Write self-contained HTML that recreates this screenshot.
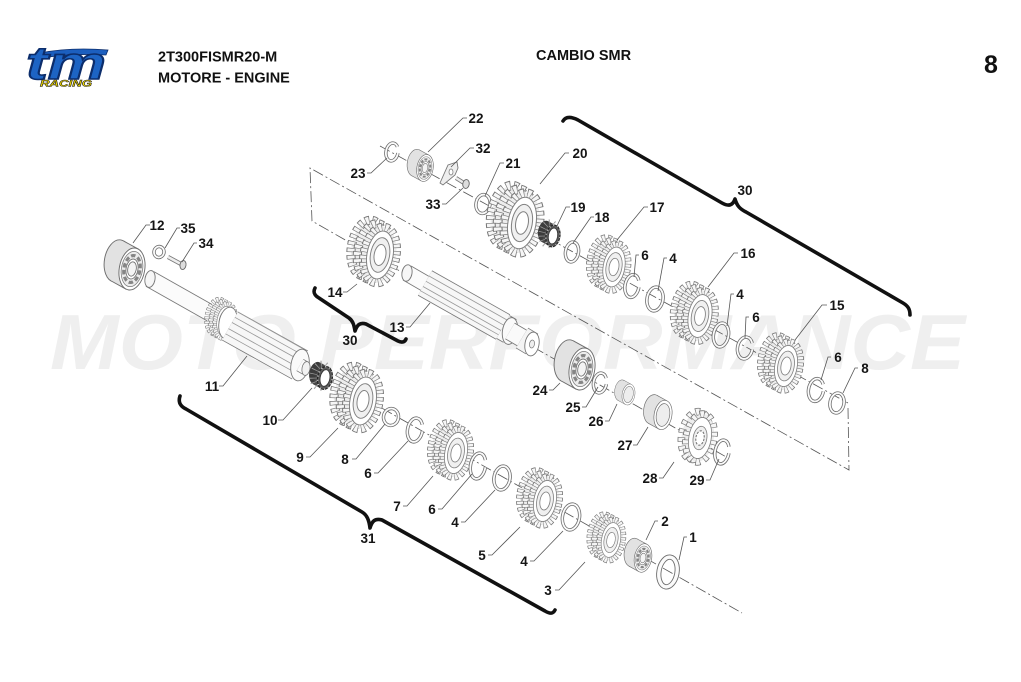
<!DOCTYPE html>
<html><head><meta charset="utf-8"><style>
html,body{margin:0;padding:0;background:#fff;width:1021px;height:682px;overflow:hidden}
svg{display:block}
.l{font-family:"Liberation Sans",Arial,sans-serif;font-weight:bold;font-size:13.5px;fill:#151515;text-anchor:middle}
.h{font-family:"Liberation Sans",Arial,sans-serif;font-weight:bold;fill:#111}
.ax{fill:none;stroke:#555;stroke-width:0.8;stroke-dasharray:11 3 2 3}
.wa{fill:none;stroke:#6d6d6d;stroke-width:3.4}
.wb{fill:none;stroke:#fbfbfb;stroke-width:1.8}
.br{fill:none;stroke:#111;stroke-width:3.6;stroke-linecap:round;stroke-linejoin:round}
</style></head><body>
<svg width="1021" height="682" viewBox="0 0 1021 682" xmlns="http://www.w3.org/2000/svg">
<defs>
 <g id="tr">
  <ellipse rx="15" ry="26.5" fill="#ededed" stroke="#767676" stroke-width="8.6" stroke-dasharray="3.9 2.745"/>
  <ellipse rx="15" ry="26.5" fill="none" stroke="#f6f6f6" stroke-width="6.8" stroke-dasharray="2.7 3.945" stroke-dashoffset="-0.6"/>
 </g>
 <g id="gear">
  <use href="#tr" transform="translate(-12,-6.6) rotate(10)"/>
  <use href="#tr" transform="translate(-6,-3.3) rotate(10)"/>
  <g transform="rotate(10)">
   <use href="#tr"/>
   <ellipse rx="12.3" ry="22.8" fill="#fff" stroke="#808080" stroke-width="0.9"/>
   <ellipse rx="9" ry="16.5" fill="#f0f0f0" stroke="#808080" stroke-width="0.9"/>
   <ellipse rx="5.5" ry="10" fill="#fff" stroke="#808080" stroke-width="0.9"/>
  </g>
 </g>
 <g id="trs">
  <ellipse rx="15" ry="26.5" fill="#ededed" stroke="#767676" stroke-width="8.4" stroke-dasharray="5 4.49"/>
  <ellipse rx="15" ry="26.5" fill="none" stroke="#f6f6f6" stroke-width="6.6" stroke-dasharray="3.6 5.89" stroke-dashoffset="-0.7"/>
 </g>
 <g id="spr">
  <use href="#trs" transform="translate(-5,-2.7) rotate(10)"/>
  <g transform="rotate(10)">
   <use href="#trs"/>
   <ellipse rx="12.3" ry="22.8" fill="#fff" stroke="#808080" stroke-width="0.9"/>
   <ellipse rx="7.5" ry="13" fill="#efefef" stroke="#808080" stroke-width="0.9"/>
   <ellipse rx="4.5" ry="8" fill="#fff" stroke="#777" stroke-width="1.2" stroke-dasharray="2.5 1.5"/>
  </g>
 </g>
 <g id="brg">
  <ellipse transform="translate(-14,-7.7) rotate(10)" rx="12" ry="20" fill="#e2e2e2" stroke="#6e6e6e" stroke-width="0.9"/>
  <polygon points="5.75,-18.9 -8.25,-26.6 -19.75,11.2 -5.75,18.9" fill="#e2e2e2"/>
  <line x1="5.75" y1="-18.9" x2="-8.25" y2="-26.6" stroke="#6e6e6e" stroke-width="0.9"/>
  <line x1="-5.75" y1="18.9" x2="-19.75" y2="11.2" stroke="#6e6e6e" stroke-width="0.9"/>
  <g transform="rotate(10)">
   <ellipse rx="12" ry="20" fill="#fff" stroke="#6e6e6e" stroke-width="0.9"/>
   <ellipse rx="10" ry="16.8" fill="#ececec" stroke="#7a7a7a" stroke-width="0.7"/>
   <ellipse rx="7.6" ry="12.8" fill="none" stroke="#858585" stroke-width="3" stroke-dasharray="4.2 2.3"/>
   <ellipse rx="5.6" ry="9.5" fill="#fff" stroke="#6e6e6e" stroke-width="0.8"/>
   <ellipse rx="4" ry="6.8" fill="#f4f4f4" stroke="#6e6e6e" stroke-width="0.8"/>
  </g>
 </g>
 <g id="bush">
  <ellipse transform="translate(-14,-7.7) rotate(10)" rx="12" ry="20" fill="#e2e2e2" stroke="#6e6e6e" stroke-width="0.9"/>
  <polygon points="5.75,-18.9 -8.25,-26.6 -19.75,11.2 -5.75,18.9" fill="#e2e2e2"/>
  <line x1="5.75" y1="-18.9" x2="-8.25" y2="-26.6" stroke="#6e6e6e" stroke-width="0.9"/>
  <line x1="-5.75" y1="18.9" x2="-19.75" y2="11.2" stroke="#6e6e6e" stroke-width="0.9"/>
  <g transform="rotate(10)">
   <ellipse rx="12" ry="20" fill="#fff" stroke="#6e6e6e" stroke-width="0.9"/>
   <ellipse rx="9" ry="15.5" fill="#eeeeee" stroke="#6e6e6e" stroke-width="0.9"/>
  </g>
 </g>
 <g id="ndl">
  <ellipse transform="translate(-8,-4.4) rotate(10)" rx="7" ry="11" fill="#3c3c3c"/>
  <polygon points="3.33,-10.33 -4.67,-14.73 -11.33,5.93 -3.33,10.33" fill="#484848"/>
  <ellipse transform="translate(-4,-2.2) rotate(10)" rx="7" ry="11" fill="none" stroke="#a0a0a0" stroke-width="7" stroke-dasharray="0.7 3.39"/>
  <g transform="rotate(10)">
   <ellipse rx="7" ry="11" fill="#5a5a5a" stroke="#222" stroke-width="1"/>
   <ellipse rx="7" ry="11" fill="none" stroke="#cfcfcf" stroke-width="1.6" stroke-dasharray="1 3.09"/>
   <ellipse rx="4.6" ry="8" fill="#fff" stroke="#333" stroke-width="0.8"/>
  </g>
 </g>
</defs>

<text x="50" y="369" font-family="Liberation Sans, Arial, sans-serif" font-weight="bold" font-style="italic" font-size="78" fill="#efefef" textLength="915" lengthAdjust="spacingAndGlyphs">MOTO PERFORMANCE</text>

<path d="M40,53 Q70,47 108,50 L106,55 Q72,53 42,58 Z" fill="#1c5fbf" stroke="#0c2d6b" stroke-width="0.8"/>
<text x="26" y="79" font-family="Liberation Sans, Arial, sans-serif" font-size="46" font-weight="bold" font-style="italic" fill="#1d64c4" stroke="#0c2d6b" stroke-width="1.6" textLength="80" lengthAdjust="spacingAndGlyphs">tm</text>
<text x="40" y="86.5" font-family="Liberation Sans, Arial, sans-serif" font-size="9.5" font-weight="bold" font-style="italic" fill="#efd800" stroke="#1a1a1a" stroke-width="0.5" textLength="52" lengthAdjust="spacingAndGlyphs">RACING</text>
<text class="h" x="158" y="61.5" font-size="14.5">2T300FISMR20-M</text>
<text class="h" x="158" y="82.5" font-size="14.5">MOTORE - ENGINE</text>
<text class="h" x="536" y="60" font-size="14.5">CAMBIO SMR</text>
<text class="h" x="984" y="73" font-size="25">8</text>

<path class="ax" d="M380,146 L848,403"/>
<path class="ax" d="M848,408 L849,470 L310,168 L312,221 L728,458"/>
<path class="ax" d="M118,258 L742,613"/>

<line x1="150" y1="279" x2="212" y2="314" stroke="#777" stroke-width="17.5"/>
<line x1="150" y1="279" x2="212" y2="314" stroke="#fbfbfb" stroke-width="15.8"/>
<ellipse transform="translate(150,279) rotate(10)" rx="5" ry="8.5" fill="#f6f6f6" stroke="#777" stroke-width="0.9"/>
<use href="#gear" transform="translate(225,321) scale(0.65)"/>
<ellipse transform="translate(228,323) rotate(10)" rx="9" ry="16" fill="#fff" stroke="#777" stroke-width="0.9"/>
<line x1="230" y1="326" x2="300" y2="365" stroke="#777" stroke-width="33"/>
<line x1="230" y1="326" x2="300" y2="365" stroke="#f7f7f7" stroke-width="31.4"/>
<path d="M234.9,317.3L304.9,356.3M232,322.5L302,361.5M228.5,328.6L298.5,367.6M225.6,333.8L295.6,372.8M237.8,312L307,351" stroke="#999" stroke-width="0.8" fill="none"/>
<ellipse transform="translate(300,365) rotate(10)" rx="9" ry="16" fill="#fafafa" stroke="#777" stroke-width="0.9"/>
<line x1="300" y1="365" x2="306" y2="368.5" stroke="#777" stroke-width="14"/>
<line x1="300" y1="365" x2="306" y2="368.5" stroke="#fbfbfb" stroke-width="12.4"/>
<ellipse transform="translate(306,368.5) rotate(10)" rx="4" ry="7" fill="#f2f2f2" stroke="#777" stroke-width="0.8"/>

<line x1="407" y1="273" x2="426" y2="284" stroke="#777" stroke-width="17"/>
<line x1="407" y1="273" x2="426" y2="284" stroke="#fbfbfb" stroke-width="15.4"/>
<ellipse transform="translate(407,273) rotate(10)" rx="5" ry="8.3" fill="#f6f6f6" stroke="#777" stroke-width="0.9"/>
<line x1="425" y1="283" x2="503" y2="327" stroke="#777" stroke-width="29"/>
<line x1="425" y1="283" x2="503" y2="327" stroke="#f7f7f7" stroke-width="27.4"/>
<path d="M429,276L507,320M426,281.3L504,325.3M423,286.5L501,330.5M420.6,290.8L498.6,334.8" stroke="#999" stroke-width="0.8" fill="none"/>
<line x1="503" y1="327" x2="510" y2="331" stroke="#777" stroke-width="27"/>
<line x1="503" y1="327" x2="510" y2="331" stroke="#fafafa" stroke-width="25.4"/>
<ellipse transform="translate(510,331) rotate(10)" rx="7.5" ry="13.5" fill="#fafafa" stroke="#777" stroke-width="0.9"/>
<line x1="510" y1="331" x2="522" y2="338" stroke="#777" stroke-width="19"/>
<line x1="510" y1="331" x2="522" y2="338" stroke="#fafafa" stroke-width="17.4"/>
<line x1="522" y1="338" x2="532" y2="344" stroke="#777" stroke-width="24"/>
<line x1="522" y1="338" x2="532" y2="344" stroke="#f4f4f4" stroke-width="22.4"/>
<ellipse transform="translate(532,344) rotate(10)" rx="7" ry="12" fill="#fff" stroke="#777" stroke-width="0.9"/>
<ellipse transform="translate(532,344) rotate(10)" rx="2.5" ry="4" fill="#eee" stroke="#777" stroke-width="0.7"/>

<g transform="translate(392,152) rotate(10)"><ellipse class="wa" rx="6" ry="9" stroke-dasharray="41 7"/><ellipse class="wb" rx="6" ry="9" stroke-dasharray="41 7"/></g>
<use href="#brg" transform="translate(425,168) scale(0.68)"/>
<polygon points="440,183 448,165 457,162 458,168 455,175 443,185" fill="#eee" stroke="#777" stroke-width="0.9"/>
<ellipse cx="451" cy="172" rx="2" ry="3" fill="#fff" stroke="#777" stroke-width="0.7"/>
<line x1="456" y1="178" x2="464" y2="183" stroke="#777" stroke-width="4"/>
<line x1="456" y1="178" x2="464" y2="183" stroke="#eee" stroke-width="2.4"/>
<ellipse transform="translate(466,184) rotate(10)" rx="3.2" ry="4.5" fill="#ddd" stroke="#666" stroke-width="0.9"/>
<g transform="translate(483,204) rotate(10)"><ellipse class="wa" rx="7" ry="9.5"/><ellipse class="wb" rx="7" ry="9.5"/></g>
<use href="#gear" transform="translate(522,223) scale(1.14)"/>
<use href="#ndl" transform="translate(553,236)"/>
<g transform="translate(572,252) rotate(10)"><ellipse class="wa" rx="6.5" ry="10"/><ellipse class="wb" rx="6.5" ry="10"/></g>
<use href="#gear" transform="translate(614,267) scale(0.88)"/>
<g transform="translate(632,286) rotate(10)"><ellipse class="wa" rx="7" ry="11.5" stroke-dasharray="52 7"/><ellipse class="wb" rx="7" ry="11.5" stroke-dasharray="52 7"/></g>
<g transform="translate(655,299) rotate(10)"><ellipse class="wa" rx="8" ry="12"/><ellipse class="wb" rx="8" ry="12"/></g>
<use href="#gear" transform="translate(700,316) scale(0.95)"/>
<g transform="translate(721,335) rotate(10)"><ellipse class="wa" rx="7.5" ry="12"/><ellipse class="wb" rx="7.5" ry="12"/></g>
<g transform="translate(745,348) rotate(10)"><ellipse class="wa" rx="7.5" ry="11" stroke-dasharray="52 7"/><ellipse class="wb" rx="7.5" ry="11" stroke-dasharray="52 7"/></g>
<use href="#gear" transform="translate(786,366) scale(0.91)"/>
<g transform="translate(816,390) rotate(10)"><ellipse class="wa" rx="7.5" ry="11.5" stroke-dasharray="53 7"/><ellipse class="wb" rx="7.5" ry="11.5" stroke-dasharray="53 7"/></g>
<g transform="translate(837,403) rotate(10)"><ellipse class="wa" rx="7" ry="10"/><ellipse class="wb" rx="7" ry="10"/></g>

<use href="#gear" transform="translate(380,255) scale(1.06)"/>
<use href="#brg" transform="translate(582,369) scale(1.06)"/>
<g transform="translate(600,383) rotate(10)"><ellipse class="wa" rx="6.5" ry="10" stroke-dasharray="46 6.5"/><ellipse class="wb" rx="6.5" ry="10" stroke-dasharray="46 6.5"/></g>
<use href="#bush" transform="translate(628.5,394.5) scale(0.53)"/>
<use href="#bush" transform="translate(663,415) scale(0.74)"/>
<use href="#spr" transform="translate(700,438) scale(0.91)"/>
<g transform="translate(722,452) rotate(10)"><ellipse class="wa" rx="7" ry="12" stroke-dasharray="54 7"/><ellipse class="wb" rx="7" ry="12" stroke-dasharray="54 7"/></g>

<use href="#brg" transform="translate(132,269) scale(1.06)"/>
<g transform="translate(159,252) rotate(10)"><ellipse class="wa" rx="5" ry="5.5"/><ellipse class="wb" rx="5" ry="5.5"/></g>
<line x1="168" y1="257" x2="181" y2="264" stroke="#777" stroke-width="4.2"/>
<line x1="168" y1="257" x2="181" y2="264" stroke="#eee" stroke-width="2.6"/>
<ellipse transform="translate(183,265) rotate(10)" rx="3" ry="4.5" fill="#ddd" stroke="#666" stroke-width="0.9"/>
<use href="#ndl" transform="translate(325,378) scale(1.05)"/>
<use href="#gear" transform="translate(363,401) scale(1.06)"/>
<g transform="translate(391,417) rotate(10)"><ellipse class="wa" rx="7.5" ry="8.5"/><ellipse class="wb" rx="7.5" ry="8.5"/></g>
<g transform="translate(415,430) rotate(10)"><ellipse class="wa" rx="7.5" ry="12" stroke-dasharray="55 7"/><ellipse class="wb" rx="7.5" ry="12" stroke-dasharray="55 7"/></g>
<use href="#gear" transform="translate(456,453) scale(0.91)"/>
<g transform="translate(478,466) rotate(10)"><ellipse class="wa" rx="7.5" ry="13" stroke-dasharray="58 7.6"/><ellipse class="wb" rx="7.5" ry="13" stroke-dasharray="58 7.6"/></g>
<g transform="translate(502,478) rotate(10)"><ellipse class="wa" rx="8" ry="12"/><ellipse class="wb" rx="8" ry="12"/></g>
<use href="#gear" transform="translate(545,501) scale(0.91)"/>
<g transform="translate(571,517) rotate(10)"><ellipse class="wa" rx="8.5" ry="13"/><ellipse class="wb" rx="8.5" ry="13"/></g>
<use href="#gear" transform="translate(611,540) scale(0.77)"/>
<use href="#brg" transform="translate(643,558) scale(0.72)"/>
<g transform="translate(668,572) rotate(10)"><ellipse rx="9" ry="15" fill="none" stroke="#6d6d6d" stroke-width="5.2"/><ellipse rx="9" ry="15" fill="none" stroke="#fbfbfb" stroke-width="3.4"/></g>

<path fill="none" stroke="#555" stroke-width="0.8" d="M150,225H146L133,243M180,228H177L165,248M197,243H194L182,262M219,386H223L247,356M278,420H283L312,388M343,292H347L357,284M406,327H410L430,303M367,173H371L387,158M467,118H463L428,152M474,148H470L451,167M442,204H446L463,188M504,163H500L485,196M569,153H565L540,184M570,207H566L556,228M594,217H591L573,243M648,207H644L617,240M639,255H636L634,277M667,258H664L658,291M738,253H734L708,287M734,294H731L727,326M749,317H746L745,338M827,305H822L795,340M831,357H828L821,380M858,368H855L843,393M549,390H553L560,383M582,407H586L598,387M605,421H609L617,404M633,445H637L648,427M659,478H663L674,462M706,480H710L719,459M306,457H310L338,428M352,459H356L385,424M374,473H378L408,441M403,506H407L433,476M438,509H442L472,474M461,522H465L495,490M488,555H492L520,527M530,561H534L563,531M555,590H559L585,562M658,521H655L646,540M687,537H684L679,560"/>

<path class="br" d="M563,121 C566,116 572,117 578,120 L722,203 C729,207 733,205 735,199 C737,206 740,209 746,212 L903,303 C908,306 910,309 910,315"/>
<path class="br" d="M315,288 C313,292 314,295 319,298 L349,318 C353,321 354,325 355,331 C357,325 360,322 366,324 L398,341 C402,343 405,342 406,339"/>
<path class="br" d="M180,396 C178,402 180,406 186,409 L362,512 C367,515 369,520 370,528 C372,521 375,518 382,520 L545,611 C550,614 553,614 555,610"/>

<text class="l" x="157" y="230">12</text>
<text class="l" x="188" y="233">35</text>
<text class="l" x="206" y="248">34</text>
<text class="l" x="212" y="391">11</text>
<text class="l" x="270" y="425">10</text>
<text class="l" x="335" y="297">14</text>
<text class="l" x="397" y="332">13</text>
<text class="l" x="358" y="178">23</text>
<text class="l" x="476" y="123">22</text>
<text class="l" x="483" y="153">32</text>
<text class="l" x="433" y="209">33</text>
<text class="l" x="513" y="168">21</text>
<text class="l" x="580" y="158">20</text>
<text class="l" x="578" y="212">19</text>
<text class="l" x="602" y="222">18</text>
<text class="l" x="657" y="212">17</text>
<text class="l" x="645" y="260">6</text>
<text class="l" x="673" y="263">4</text>
<text class="l" x="748" y="258">16</text>
<text class="l" x="740" y="299">4</text>
<text class="l" x="756" y="322">6</text>
<text class="l" x="837" y="310">15</text>
<text class="l" x="838" y="362">6</text>
<text class="l" x="865" y="373">8</text>
<text class="l" x="540" y="395">24</text>
<text class="l" x="573" y="412">25</text>
<text class="l" x="596" y="426">26</text>
<text class="l" x="625" y="450">27</text>
<text class="l" x="650" y="483">28</text>
<text class="l" x="697" y="485">29</text>
<text class="l" x="300" y="462">9</text>
<text class="l" x="345" y="464">8</text>
<text class="l" x="368" y="478">6</text>
<text class="l" x="397" y="511">7</text>
<text class="l" x="432" y="514">6</text>
<text class="l" x="455" y="527">4</text>
<text class="l" x="482" y="560">5</text>
<text class="l" x="524" y="566">4</text>
<text class="l" x="548" y="595">3</text>
<text class="l" x="665" y="526">2</text>
<text class="l" x="693" y="542">1</text>
<text class="l" x="745" y="195">30</text>
<text class="l" x="350" y="345">30</text>
<text class="l" x="368" y="543">31</text>
</svg>
</body></html>
